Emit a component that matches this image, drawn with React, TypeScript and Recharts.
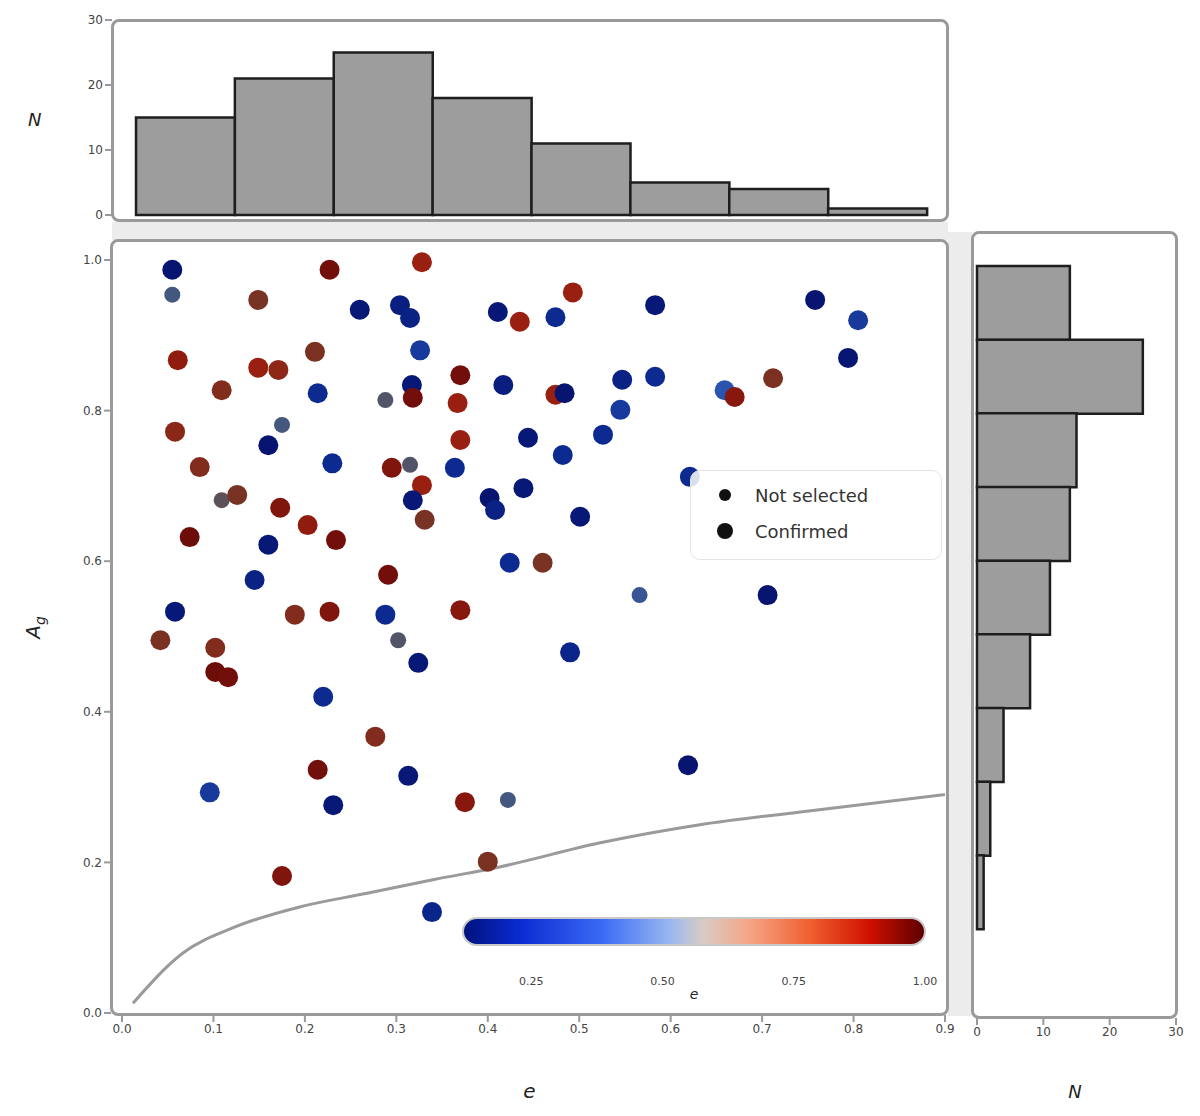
import React from "react";
import { Bar, BarChart, ComposedChart, Label, Line, ReferenceArea, Scatter, XAxis, YAxis } from "recharts";

// top histogram: counts per eccentricity bin
const eBins = ["b1", "b2", "b3", "b4", "b5", "b6", "b7", "b8"];
const eCounts = [15, 21, 25, 18, 11, 5, 4, 1];

// right histogram: counts per A_g bin, top to bottom
const aBins = ["r1", "r2", "r3", "r4", "r5", "r6", "r7", "r8", "r9"];
const aCounts = [14, 25, 15, 14, 11, 8, 4, 2, 1];

const eTicks = [0, 0.1, 0.2, 0.3, 0.4, 0.5, 0.6, 0.7, 0.8, 0.9];
const aTicks = [0, 0.2, 0.4, 0.6, 0.8, 1.0];
const countTicks = [0, 10, 20, 30];
const cbarTicks = [0.25, 0.5, 0.75, 1.0];
const cbarMin = 0.12;
const cbarMax = 1.0;

// limit curve
const curveE = [0.012, 0.067, 0.121, 0.195, 0.268, 0.34, 0.413, 0.523, 0.632, 0.742, 0.9];
const curveA = [0.013, 0.08, 0.113, 0.141, 0.159, 0.177, 0.194, 0.226, 0.25, 0.267, 0.29];

// confirmed planets: e, A_g, colour value
const confE = [0.055, 0.149, 0.227, 0.328, 0.26, 0.304, 0.315, 0.061, 0.149, 0.171, 0.211, 0.109, 0.214, 0.326, 0.317, 0.318, 0.37, 0.367, 0.417, 0.411, 0.435, 0.474, 0.493, 0.583, 0.758, 0.805, 0.794, 0.547, 0.583, 0.474, 0.484, 0.659, 0.67, 0.712, 0.058, 0.16, 0.23, 0.085, 0.295, 0.328, 0.318, 0.331, 0.37, 0.364, 0.444, 0.482, 0.526, 0.545, 0.402, 0.408, 0.439, 0.501, 0.621, 0.126, 0.074, 0.16, 0.173, 0.203, 0.234, 0.145, 0.291, 0.424, 0.46, 0.058, 0.042, 0.102, 0.102, 0.116, 0.189, 0.227, 0.288, 0.324, 0.37, 0.706, 0.49, 0.22, 0.277, 0.214, 0.096, 0.313, 0.231, 0.375, 0.619, 0.4, 0.175, 0.339];
const confA = [0.987, 0.947, 0.987, 0.997, 0.934, 0.94, 0.923, 0.867, 0.857, 0.854, 0.878, 0.827, 0.823, 0.88, 0.834, 0.817, 0.847, 0.81, 0.834, 0.931, 0.918, 0.924, 0.957, 0.94, 0.947, 0.92, 0.87, 0.841, 0.845, 0.821, 0.823, 0.827, 0.818, 0.843, 0.772, 0.754, 0.73, 0.725, 0.724, 0.701, 0.681, 0.655, 0.761, 0.724, 0.764, 0.741, 0.768, 0.801, 0.684, 0.668, 0.697, 0.659, 0.712, 0.688, 0.632, 0.622, 0.671, 0.648, 0.628, 0.575, 0.582, 0.598, 0.598, 0.533, 0.495, 0.485, 0.453, 0.446, 0.529, 0.533, 0.529, 0.465, 0.535, 0.555, 0.479, 0.42, 0.367, 0.323, 0.293, 0.315, 0.276, 0.28, 0.329, 0.201, 0.182, 0.134];
const confC = [0.14, 0.74, 0.96, 0.87, 0.16, 0.19, 0.21, 0.89, 0.87, 0.82, 0.75, 0.78, 0.25, 0.3, 0.16, 0.96, 0.96, 0.87, 0.19, 0.16, 0.87, 0.25, 0.87, 0.16, 0.14, 0.3, 0.15, 0.21, 0.25, 0.87, 0.14, 0.38, 0.91, 0.75, 0.81, 0.14, 0.25, 0.78, 0.93, 0.87, 0.16, 0.74, 0.87, 0.25, 0.16, 0.25, 0.25, 0.3, 0.14, 0.21, 0.16, 0.16, 0.25, 0.74, 0.97, 0.16, 0.93, 0.89, 0.96, 0.21, 0.96, 0.25, 0.74, 0.16, 0.75, 0.78, 0.97, 0.96, 0.78, 0.93, 0.25, 0.16, 0.91, 0.14, 0.23, 0.25, 0.78, 0.96, 0.3, 0.16, 0.16, 0.91, 0.14, 0.75, 0.93, 0.23];

// not selected
const notSelE = [0.055, 0.288, 0.175, 0.315, 0.109, 0.302, 0.566, 0.422];
const notSelA = [0.954, 0.814, 0.781, 0.728, 0.681, 0.495, 0.555, 0.283];
const notSelC = [0.47, 0.52, 0.47, 0.52, 0.56, 0.52, 0.43, 0.47];

const cbarStops: [number, string][] = [
  [0, "#00127a"], [0.12, "#0a2ad0"], [0.3, "#3a6af5"], [0.45, "#9ab8f0"], [0.52, "#d8ccc4"],
  [0.62, "#f5a585"], [0.75, "#f06030"], [0.88, "#d01000"], [1, "#5a0000"],
];
const pointStops: [number, string][] = [
  [0, "#06106a"], [0.15, "#0c2a90"], [0.3, "#2a55b0"], [0.42, "#4a5872"], [0.58, "#6a4a40"],
  [0.72, "#7a3020"], [0.85, "#9a2010"], [1, "#600808"],
];

const hexToRgb = (h: string) => [1, 3, 5].map((i) => parseInt(h.slice(i, i + 2), 16));
function colorAt(stops: [number, string][], t: number) {
  const v = Math.max(0, Math.min(1, t));
  for (let i = 1; i < stops.length; i++) {
    if (v <= stops[i][0]) {
      const [t0, c0] = stops[i - 1];
      const [t1, c1] = stops[i];
      const f = (v - t0) / (t1 - t0);
      const a = hexToRgb(c0);
      const b = hexToRgb(c1);
      return `rgb(${a.map((x, k) => Math.round(x + (b[k] - x) * f)).join(",")})`;
    }
  }
  return stops[stops.length - 1][1];
}
const pointColor = (c: number) => colorAt(pointStops, (c - cbarMin) / (cbarMax - cbarMin));

const topData = eBins.map((b, i) => ({ bin: b, n: eCounts[i] }));
const rightData = aBins.map((b, i) => ({ bin: b, n: aCounts[i] }));
const curveData = curveE.map((e, i) => ({ e, a: curveA[i] }));
const confData = confE.map((e, i) => ({ e, a: confA[i], c: confC[i] }));
const notSelData = notSelE.map((e, i) => ({ e, a: notSelA[i], c: notSelC[i] }));
const cbarData = [cbarMin, ...cbarTicks].map((v) => ({ v, y: 0.5 }));

const W = 1200;
const H = 1116;
const FONT = "DejaVu Sans, sans-serif";
const tickStyle = { fill: "#444", fontSize: 12, fontFamily: FONT };
const frameColor = "#9a9a9a";
const labelStyle = { fill: "#222", fontSize: 20, fontStyle: "italic", fontFamily: FONT };

const layer: React.CSSProperties = { position: "absolute", left: 0, top: 0 };

function Frame({ x, y, w, h }: { x: number; y: number; w: number; h: number }) {
  return (
    <div
      style={{
        position: "absolute", left: x, top: y, width: w, height: h, boxSizing: "border-box",
        border: `3px solid ${frameColor}`, borderRadius: 8,
      }}
    />
  );
}

const dot = (r: number) => (props: any) => {
  const { cx, cy, payload } = props;
  return <circle cx={cx} cy={cy} r={r} fill={pointColor(payload.c)} />;
};

// rotated "A_g" label with a real subscript
const agLabel = (props: any) => {
  const vb = props.viewBox || {};
  const cx = vb.x + 40;
  const cy = vb.y + vb.height / 2;
  return (
    <text x={cx} y={cy} transform={`rotate(-90 ${cx} ${cy})`} textAnchor="middle" {...labelStyle}>
      A<tspan fontSize={14} dy={5}>g</tspan>
    </text>
  );
};

export default function App() {
  return (
    <div style={{ position: "absolute", left: 0, top: 0, width: W, height: H, background: "#fff", fontFamily: FONT }}>
      <div style={{ position: "absolute", left: 112, top: 222, width: 836, height: 18, background: "#ececec" }} />
      <div style={{ position: "absolute", left: 948, top: 232, width: 24, height: 784, background: "#ececec" }} />
      <Frame x={111} y={19} w={838} h={203} />
      <Frame x={110} y={239} w={839} h={777} />
      <Frame x={971} y={231} w={207} h={788} />

      {/* top histogram */}
      <div style={layer}>
        <BarChart width={W} height={H} data={topData} barCategoryGap={0}
          margin={{ top: 20, left: 0, right: 252, bottom: 896 }}>
          <XAxis dataKey="bin" hide padding={{ left: 24, right: 21 }} />
          <YAxis domain={[0, 30]} ticks={countTicks} width={112} padding={{ top: 0, bottom: 5 }}
            axisLine={false} tick={tickStyle} tickLine={{ stroke: frameColor, strokeWidth: 2 }} tickSize={7}>
            <Label value="N" position="insideLeft" offset={28} style={{ ...labelStyle, fontSize: 18 }} />
          </YAxis>
          <Bar dataKey="n" fill="#9d9d9d" stroke="#1e1e1e" strokeWidth={2.5} isAnimationActive={false} />
        </BarChart>
      </div>

      {/* right histogram */}
      <div style={layer}>
        <BarChart width={W} height={H} data={rightData} layout="vertical" barCategoryGap={0}
          margin={{ top: 232, left: 972, right: 22, bottom: 0 }}>
          <YAxis type="category" dataKey="bin" hide padding={{ top: 34, bottom: 89 }} />
          <XAxis type="number" domain={[0, 30]} ticks={countTicks} height={98} padding={{ left: 5, right: 2 }}
            axisLine={false} tick={tickStyle} tickLine={{ stroke: frameColor, strokeWidth: 2 }} tickSize={7}>
            <Label value="N" position="insideBottom" offset={18} style={{ ...labelStyle, fontSize: 18 }} />
          </XAxis>
          <Bar dataKey="n" fill="#9d9d9d" stroke="#1e1e1e" strokeWidth={2.5} isAnimationActive={false} />
        </BarChart>
      </div>

      {/* main scatter */}
      <div style={layer}>
        <ComposedChart width={W} height={H} margin={{ top: 240, left: 0, right: 252, bottom: 0 }}>
          <XAxis type="number" dataKey="e" domain={[0, 0.9]} ticks={eTicks} height={101}
            padding={{ left: 11, right: 3 }} axisLine={false} tick={tickStyle}
            tickFormatter={(v: number) => v.toFixed(1)} tickLine={{ stroke: frameColor, strokeWidth: 2 }} tickSize={7}>
            <Label value="e" position="insideBottom" offset={18} style={labelStyle} />
          </XAxis>
          <YAxis type="number" dataKey="a" domain={[0, 1]} ticks={aTicks} width={111}
            padding={{ top: 20, bottom: 2 }} axisLine={false} tick={tickStyle}
            tickFormatter={(v: number) => v.toFixed(1)} tickLine={{ stroke: frameColor, strokeWidth: 2 }} tickSize={7}>
            <Label content={agLabel} />
          </YAxis>
          <Line data={curveData} dataKey="a" type="monotone" stroke="#9a9a9a" strokeWidth={3} dot={false} isAnimationActive={false} />
          <Scatter name="Not selected" data={notSelData} shape={dot(8)} isAnimationActive={false} />
          <Scatter name="Confirmed" data={confData} shape={dot(10)} isAnimationActive={false} />
        </ComposedChart>
      </div>

      {/* colour bar */}
      <div style={layer}>
        <ComposedChart width={W} height={H} data={cbarData} margin={{ top: 918, left: 463, right: 275, bottom: 0 }}>
          <defs>
            <linearGradient id="cbar" x1="0" y1="0" x2="1" y2="0">
              {cbarStops.map(([o, c]) => (
                <stop key={o} offset={`${o * 100}%`} stopColor={c} />
              ))}
            </linearGradient>
          </defs>
          <XAxis type="number" dataKey="v" domain={[cbarMin, cbarMax]} ticks={cbarTicks} height={171} axisLine={false}
            tickLine={false} tickMargin={26} tick={{ ...tickStyle, fontSize: 11 }}
            tickFormatter={(v: number) => v.toFixed(2)}>
            <Label value="e" position="insideTop" offset={44} style={{ ...labelStyle, fontSize: 14 }} />
          </XAxis>
          <YAxis type="number" dataKey="y" hide domain={[0, 1]} />
          <ReferenceArea x1={cbarMin} x2={cbarMax} y1={0} y2={1} ifOverflow="visible"
            shape={(p: any) => <rect x={p.x} y={p.y} width={p.width} height={p.height} rx={14} fill="url(#cbar)" stroke="#c8c8c8" strokeWidth={2} />} />
        </ComposedChart>
      </div>

      {/* legend */}
      <div style={{ position: "absolute", left: 690, top: 470, width: 250, height: 88, border: "1px solid #e4e4e4", borderRadius: 10, background: "rgba(255,255,255,0.85)" }}>
        {[{ name: "Not selected", r: 6 }, { name: "Confirmed", r: 8 }].map((it, i) => (
          <div key={it.name} style={{ position: "absolute", left: 24, top: 12 + i * 36, height: 24, display: "flex", alignItems: "center" }}>
            <svg width={20} height={20}><circle cx={10} cy={10} r={it.r} fill="#111" /></svg>
            <span style={{ marginLeft: 20, fontSize: 18, color: "#333", fontFamily: FONT }}>{it.name}</span>
          </div>
        ))}
      </div>
    </div>
  );
}
